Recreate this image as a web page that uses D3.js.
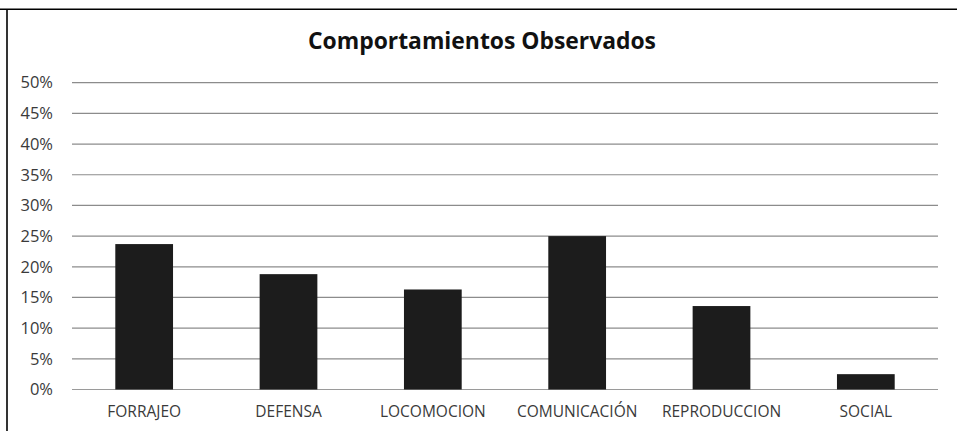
<!DOCTYPE html>
<html lang="es">
  <head>
    <meta charset="utf-8">
    <title>Comportamientos Observados</title>
    <script src="https://d3js.org/d3.v7.min.js"></script>
    <style>
      body { margin: 0; background: #fff; }
      text { font-family: "Open Sans", sans-serif; }
    </style>
  </head>
  <body>
    <div class="chart"></div>
    <script type="text/javascript">
      // datos
      const categories = ['FORRAJEO', 'DEFENSA', 'LOCOMOCION', 'COMUNICACIÓN', 'REPRODUCCION', 'SOCIAL'];
      const values = [0.237, 0.188, 0.163, 0.250, 0.136, 0.025];
      const yTicks = [0, 0.05, 0.10, 0.15, 0.20, 0.25, 0.30, 0.35, 0.40, 0.45, 0.50];

      const width = 957;
      const height = 431;
      const margin = {top: 82.7, right: 19, bottom: 41.5, left: 72};

      const svg = d3.select('.chart')
          .append('svg')
          .attr('width', width)
          .attr('height', height);

      // marco
      svg.append('line')
          .attr('x1', 0).attr('x2', width)
          .attr('y1', 9.3).attr('y2', 9.3)
          .attr('stroke', '#000').attr('stroke-width', 1.6);
      svg.append('line')
          .attr('x1', 7).attr('x2', 7)
          .attr('y1', 9.3).attr('y2', height)
          .attr('stroke', '#000').attr('stroke-width', 1.6);

      const xScale = d3.scaleBand()
          .domain(categories)
          .range([margin.left, width - margin.right])
          .paddingInner(0.6)
          .paddingOuter(0.3);

      const yScale = d3.scaleLinear()
          .domain([0, 0.5])
          .range([height - margin.bottom, margin.top]);

      // lineas de cuadricula
      svg.append('g')
          .selectAll('line')
          .data(yTicks)
          .enter()
          .append('line')
          .attr('x1', margin.left)
          .attr('x2', width - margin.right)
          .attr('y1', d => yScale(d))
          .attr('y2', d => yScale(d))
          .attr('stroke', d => d === 0 ? '#9a9a9a' : '#8c8c8c')
          .attr('stroke-width', 1.2);

      const yAxis = d3.axisLeft(yScale)
          .tickValues(yTicks)
          .tickFormat(d3.format('.0%'))
          .tickSize(0)
          .tickPadding(19);

      svg.append('g')
          .attr('class', 'axis y-axis')
          .attr('transform', `translate(${margin.left},0)`)
          .call(yAxis)
          .call(g => g.select('.domain').remove())
          .selectAll('text')
          .attr('font-family', '"Open Sans", sans-serif')
          .attr('font-size', 16.5)
          .attr('fill', '#3a3a3a');

      svg.selectAll('.bar')
          .data(values)
          .enter()
          .append('rect')
          .attr('class', 'bar')
          .attr('x', (d, i) => xScale(categories[i]))
          .attr('width', xScale.bandwidth())
          .attr('y', d => yScale(d))
          .attr('height', d => yScale(0) - yScale(d))
          .attr('fill', '#1c1c1c');

      const xAxis = d3.axisBottom(xScale)
          .tickSize(0)
          .tickPadding(16.5);

      svg.append('g')
          .attr('class', 'axis x-axis')
          .attr('transform', `translate(0,${yScale(0)})`)
          .call(xAxis)
          .call(g => g.select('.domain').remove())
          .selectAll('text')
          .attr('font-family', '"Open Sans", sans-serif')
          .attr('font-size', 15.5)
          .attr('fill', '#3a3a3a');

      svg.append('text')
          .attr('x', 482)
          .attr('y', 49.3)
          .attr('text-anchor', 'middle')
          .attr('font-size', 22.5)
          .attr('font-weight', 'bold')
          .attr('fill', '#111')
          .attr('textLength', 348)
          .attr('lengthAdjust', 'spacingAndGlyphs')
          .text('Comportamientos Observados');
    </script>
  </body>
</html>
